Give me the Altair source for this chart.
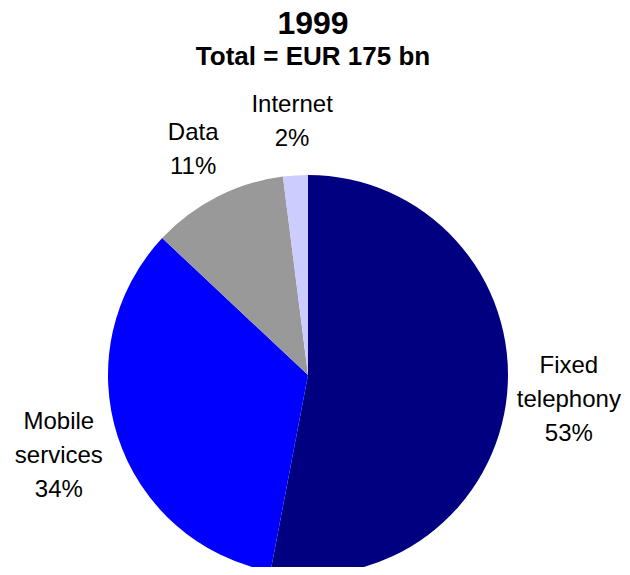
import altair as alt
import pandas as pd

categories = ["Fixed telephony", "Mobile services", "Data", "Internet"]
label_lines = ["Fixed\ntelephony", "Mobile\nservices", "Data", "Internet"]
shares = [53, 34, 11, 2]
colors = ["#000080", "#0000FF", "#999999", "#CCCCFF"]

df = pd.DataFrame({
    "category": categories,
    "share": shares,
    "idx": list(range(len(categories))),
    "label": [f"{l}\n{s}%" for l, s in zip(label_lines, shares)],
    "nlines": [l.count("\n") + 2 for l in label_lines],
})

base = alt.Chart(df).encode(
    theta=alt.Theta("share:Q", stack=True),
    order=alt.Order("idx:Q", sort="ascending"),
)

arcs = base.mark_arc(outerRadius=200, stroke=None).encode(
    color=alt.Color("category:N", scale=alt.Scale(domain=categories, range=colors), legend=None)
)

text_style = dict(fontSize=24, font="Liberation Sans", lineBreak="\n", lineHeight=34,
                  align="center", baseline="middle", color="black")

labels3 = base.mark_text(dy=-34, radius=262, **text_style).encode(
    text="label:N", opacity=alt.condition("datum.nlines == 3", alt.value(1), alt.value(0))
)
labels2 = base.mark_text(dy=-17, radius=253, **text_style).encode(
    text="label:N", opacity=alt.condition("datum.nlines == 2", alt.value(1), alt.value(0))
)

chart = alt.layer(arcs, labels3, labels2).properties(
    width=600,
    height=384,
    autosize=alt.AutoSizeParams(type="none"),
    padding={"left": 0, "top": 175, "right": 14, "bottom": 0},
    title=alt.TitleParams(
        text="1999",
        subtitle="Total = EUR 175 bn",
        fontSize=32,
        subtitleFontSize=26,
        font="Liberation Sans",
        subtitleFont="Liberation Sans",
        fontWeight="bold",
        subtitleFontWeight="bold",
        color="black",
        subtitleColor="black",
        anchor="middle",
        subtitlePadding=3,
        offset=-3,
        dx=5,
    ),
).configure_view(stroke=None)

chart.save("out.html", embed_options={"renderer": "svg", "actions": False})
